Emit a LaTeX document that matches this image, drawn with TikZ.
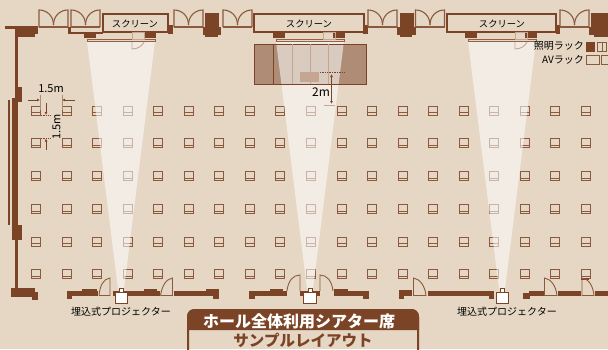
\documentclass[tikz,border=0pt]{standalone}
\usepackage{fontspec}
\newfontfamily\cjk{Noto Sans CJK JP}
\usetikzlibrary{arrows.meta}
\definecolor{paper}{RGB}{229, 215, 196}
\definecolor{wall}{RGB}{123, 68, 38}
\definecolor{ghost}{RGB}{196, 166, 146}
\definecolor{stagefill}{RGB}{174, 140, 118}
\definecolor{label}{RGB}{128, 82, 56}
\newcommand{\doorpair}[1]{
  \draw[doorline] (#1, 27) -- (#1, 10) .. controls (#1+8, 10) and (#1+14.5, 16) .. (#1+14.5, 25);
  \draw[doorline] (#1+29, 27) -- (#1+29, 10) .. controls (#1+21, 10) and (#1+14.5, 16) .. (#1+14.5, 25);
  \draw[doorline] (#1, 27) -- (#1+29, 27);
}
\newcommand{\screenset}[3]{
  \draw[wall, line width=2.4pt] (#1, 14.2) rectangle (#2, 32);
  \fill[wall] (#3-37, 33) rectangle (#3-25, 38);
  \fill[wall] (#3+23, 33) rectangle (#3+35, 38);
  \draw[wall!80!paper, fill=paper, line width=0.8pt] (#3-34, 39) rectangle (#3+34, 41.5);
}
\newcommand{\projector}[1]{
  \draw[wall, fill=white, line width=1pt] (#1-2, 288.5) rectangle (#1+2, 292);
  \draw[wall, fill=white, line width=1pt] (#1-6.2, 292) rectangle (#1+6.2, 303);
}
\tikzset{
  doorline/.style={wall!85!paper, line width=1.1pt},
  floordoor/.style={wall!85!paper, line width=0.9pt},
  ghostline/.style={ghost, line width=0.9pt},
  seatbox/.style={wall!85!paper, line width=0.95pt},
  dimtext/.style={label, font=\cjk\fontsize{11}{11}\selectfont, inner sep=0pt},
  cjktext/.style={label, font=\cjk\fontsize{10}{10}\selectfont, inner sep=0pt},
  screentext/.style={label, font=\cjk\fontsize{9.3}{9.3}\selectfont, inner sep=0pt},
  dimarrow/.style={wall, line width=0.8pt, -{Latex[length=3pt, width=2.8pt]}},
  dimboth/.style={wall, line width=0.8pt, {Latex[length=3pt, width=2.8pt]}-{Latex[length=3pt, width=2.8pt]}},
  dimguide/.style={wall!50!paper, line width=0.6pt},
  dimdots/.style={wall, line width=0.7pt, densely dotted}
}
\begin{document}
\begin{tikzpicture}[x=1pt, y=-1pt]

  \useasboundingbox (0, 0) rectangle (608, 349);
  \fill[paper] (0, 0) rectangle (608, 349);

  % stage
  \fill[stagefill] (254, 44) rectangle (366, 84);

  % seats
  \foreach \r in {110.5, 143, 176, 209, 241.5, 274} {
    \foreach \c in {0, 1,..., 18} {
      \draw[seatbox] ({36 + 30.55*\c - 4.5}, \r - 4.5) rectangle ({36 + 30.55*\c + 4.5}, \r + 4.5);
      \draw[seatbox] ({36 + 30.55*\c - 4.5}, \r + 2) -- ({36 + 30.55*\c + 4.5}, \r + 2);
    }
  }

  % light from the projectors
  \fill[white, opacity=0.55] (87, 41) -- (155, 41) -- (124, 289) -- (118, 289) -- cycle;
  \fill[white, opacity=0.55] (276, 41) -- (344, 41) -- (313, 289) -- (307, 289) -- cycle;
  \fill[white, opacity=0.55] (468, 41) -- (536, 41) -- (505, 289) -- (499, 289) -- cycle;

  % stage lines
  \draw[wall, line width=1pt] (254, 44) rectangle (366, 84);
  \draw[wall, line width=1pt] (273, 44) -- (273, 84);
  \foreach \x in {292, 310, 328} {
    \draw[ghost, line width=0.8pt] (\x, 44) -- (\x, 84);
  }
  \fill[ghost] (300, 72) rectangle (319, 82);

  % left wall
  \fill[wall] (5, 26) rectangle (38, 29);
  \fill[wall] (15, 29) rectangle (38, 34);
  \fill[wall] (15, 34) rectangle (35, 37);
  \fill[wall] (15, 37) rectangle (17.5, 288);
  \fill[wall] (16, 87) rectangle (22, 102);
  \fill[wall] (12, 98) rectangle (17.5, 240);
  \fill[wall] (16, 225) rectangle (22, 240);
  \fill[wall] (7.5, 100) rectangle (10, 225);
  \fill[wall] (11, 288) rectangle (35, 297);
  \fill[wall] (32, 292) rectangle (38, 300);

  % top wall
  \fill[wall] (68, 27) rectangle (70.5, 33.5);
  \fill[wall] (68, 31.5) rectangle (103, 33.5);
  \fill[wall] (168, 25) rectangle (173, 34);
  \fill[wall] (205, 13) rectangle (219, 27);
  \fill[wall] (203, 27) rectangle (221, 35);
  \fill[wall] (205, 35) rectangle (218, 37);
  \fill[wall] (363, 25) rectangle (368, 34);
  \fill[wall] (400, 13) rectangle (414, 27);
  \fill[wall] (397, 27) rectangle (416, 35);
  \fill[wall] (400, 35) rectangle (412, 37);
  \fill[wall] (556, 25) rectangle (560, 34);
  \fill[wall] (591, 13) rectangle (608, 27);
  \fill[wall] (589, 27) rectangle (608, 35);
  \fill[wall] (594, 35) rectangle (608, 37);

  \foreach \x in {39, 71, 174, 223, 368, 415.5, 560} {
    \doorpair{\x}
  }

  % screens
  \screenset{103}{168}{121}
  \screenset{254}{364}{310}
  \screenset{447}{556}{502}

  \node[screentext] (screenA) at (135, 24) {スクリーン};
  \node[screentext] (screenB) at (309, 24) {スクリーン};
  \node[screentext] (screenC) at (502, 24) {スクリーン};

  % ghosted doors behind the screens
  \foreach \x in {132, 515} {
    \draw[ghostline] (\x, 32.5) rectangle (\x+12, 39);
    \draw[ghostline] (\x, 42) -- (\x, 49) .. controls (\x+6, 49) and (\x+10, 46) .. (\x+12, 42);
  }
  \draw[ghostline] (323, 32.5) rectangle (335, 39);

  % bottom wall
  \fill[wall] (67, 291) rectangle (98, 296);
  \fill[wall] (67, 291) rectangle (72, 299);
  \fill[wall] (82, 289) rectangle (97, 291);
  \fill[wall] (113, 291) rectangle (160, 296);
  \fill[wall] (144, 289) rectangle (157, 291);
  \fill[wall] (174, 291) rectangle (219, 296);
  \fill[wall] (206, 289) rectangle (219, 291);
  \fill[wall] (213, 296) rectangle (219, 299);
  \fill[wall] (249, 291) rectangle (287, 296);
  \fill[wall] (249, 291) rectangle (255, 299);
  \fill[wall] (270, 289) rectangle (283, 291);
  \fill[wall] (300, 291) rectangle (320, 296);
  \fill[wall] (334, 291) rectangle (369, 296);
  \fill[wall] (334, 289) rectangle (348, 291);
  \fill[wall] (363, 291) rectangle (369, 299);
  \fill[wall] (399, 290) rectangle (412, 296);
  \fill[wall] (399, 290) rectangle (404, 299);
  \fill[wall] (428, 291) rectangle (494, 296);
  \fill[wall] (489, 291) rectangle (494, 299);
  \fill[wall] (529, 291) rectangle (544, 296);
  \fill[wall] (523, 293) rectangle (530, 299);
  \fill[wall] (558, 291) rectangle (581, 296);
  \fill[wall] (595, 291) rectangle (608, 296);
  \fill[wall] (581, 278) rectangle (589, 280);

  % floor doors
  \draw[floordoor] (99, 295.5) -- (110, 295.5) -- (110, 278) .. controls (103, 279) and (100, 286) .. (99, 295.5);
  \draw[floordoor] (160.5, 295.5) -- (172.5, 295.5) -- (172.5, 278) .. controls (166, 279) and (162, 286) .. (160.5, 295.5);
  \draw[floordoor] (287, 291) .. controls (288, 281) and (293, 275) .. (300, 275) -- (300, 291);
  \draw[floordoor] (320, 291) -- (320, 275) .. controls (327, 275) and (332, 281) .. (333, 291);
  \draw[floordoor] (413.5, 295.5) -- (426, 295.5) .. controls (425, 286) and (420, 279) .. (413.5, 278) -- cycle;
  \draw[floordoor] (544.5, 295.5) -- (557, 295.5) .. controls (556, 286) and (551, 279) .. (544.5, 278) -- cycle;
  \draw[floordoor] (582, 295.5) -- (594, 295.5) .. controls (593, 286) and (589, 279) .. (582, 278) -- cycle;

  % projectors
  \projector{121.5}
  \projector{310}
  \projector{502.5}

  \node[cjktext] (projA) at (121, 312) {埋込式プロジェクター};
  \node[cjktext] (projB) at (507, 312) {埋込式プロジェクター};

  % rack legend
  \node[cjktext, anchor=east] (lightrack) at (584, 46) {照明ラック};
  \node[cjktext, anchor=east] (avrack) at (584, 60) {AVラック};
  \fill[wall] (585.5, 42) rectangle (595, 52);
  \draw[seatbox] (597, 42.5) rectangle (606, 51.5);
  \draw[seatbox] (602, 42.5) -- (602, 51.5);
  \draw[seatbox] (586, 55.5) rectangle (599, 64);
  \draw[seatbox] (601, 55.5) rectangle (608.5, 64);

  % dimensions
  \node[dimtext] (dimH) at (51, 89) {1.5m};
  \draw[dimguide] (40, 95) -- (40, 110);
  \draw[dimguide] (62, 95) -- (62, 110);
  \draw[dimarrow] (28, 100) -- (40, 100);
  \draw[dimarrow] (75, 100) -- (62, 100);
  \node[dimtext, rotate=90] (dimV) at (56.5, 127) {1.5m};
  \draw[dimarrow] (46, 103) -- (46, 115);
  \draw[dimarrow] (46, 150) -- (46, 138.5);
  \draw[dimdots] (41, 115.5) -- (50, 115.5);
  \draw[dimdots] (41, 138) -- (50, 138);
  \node[dimtext, font=\cjk\fontsize{12}{12}\selectfont] (dimS) at (321, 92.5) {2m};
  \draw[dimdots] (320, 72.5) -- (345, 72.5);
  \draw[dimboth] (331.5, 74) -- (331.5, 104);
  \draw[ghost, line width=1pt] (324, 105.5) -- (335, 105.5);

  % title plate
  \draw[wall, line width=2pt] (188, 351) -- (188, 317) .. controls (188, 312) and (191, 310) .. (195, 310)
    -- (411, 310) .. controls (415, 310) and (418, 312) .. (418, 317) -- (418, 351);
  \fill[wall] (187, 330) -- (187, 317) .. controls (187, 312) and (191, 309) .. (195, 309)
    -- (411, 309) .. controls (415, 309) and (419, 312) .. (419, 317) -- (419, 330) -- cycle;
  \node[white, font=\cjk\bfseries\fontsize{16}{16}\selectfont, inner sep=0pt] (titleA) at (299, 321) {ホール全体利用シアター席};
  \node[wall, font=\cjk\bfseries\fontsize{15.5}{15.5}\selectfont, inner sep=0pt] (titleB) at (303, 340.5) {サンプルレイアウト};

\end{tikzpicture}
\end{document}
